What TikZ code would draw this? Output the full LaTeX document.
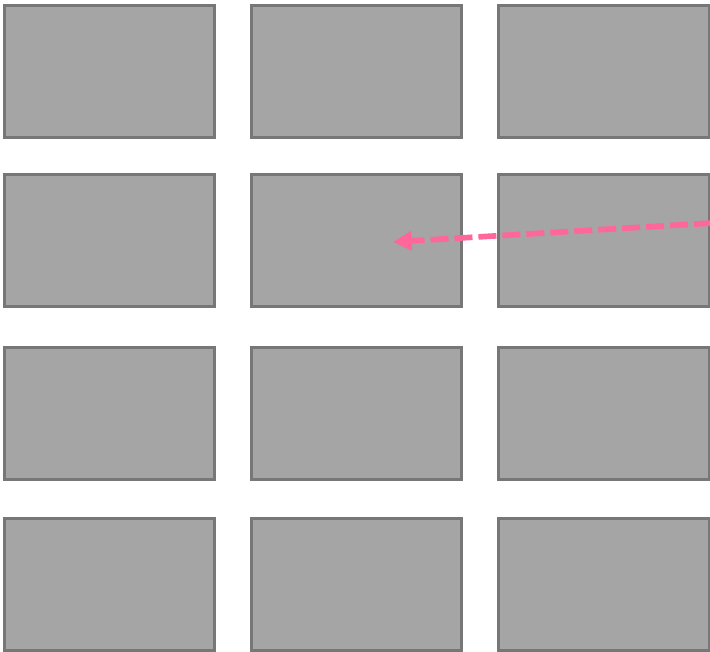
\documentclass[tikz,border=0pt]{standalone}
\usepackage{tikz}
\usetikzlibrary{arrows.meta}
\usepackage{xcolor}
\definecolor{tilegray}{RGB}{165,165,165}
\definecolor{edgegray}{RGB}{119,119,119}
\definecolor{pinkarrow}{RGB}{255,102,153}

\begin{document}
\begin{tikzpicture}[x=0.75pt,y=-0.75pt,
  tile/.style={draw=edgegray,fill=tilegray,line width=2.25pt,inner sep=0pt,
    minimum width=158pt,minimum height=99pt}]
\useasboundingbox (0,0) rectangle (710,652);
\foreach \r/\y in {1/71.5,2/240.5,3/413,4/584}{
  \foreach \c/\x in {1/109.5,2/356.5,3/604}{
    \node[tile] (tile-\r-\c) at (\x,\y) {};
  }
}
\coordinate (drag-start) at (712,223);
\coordinate (drag-end) at (393,242);
\draw[pinkarrow,line width=4.25pt,dash pattern=on 13.5pt off 4.5pt,
  -{Triangle[length=14pt,width=14pt]}] (drag-start) -- (drag-end);
\end{tikzpicture}
\end{document}
